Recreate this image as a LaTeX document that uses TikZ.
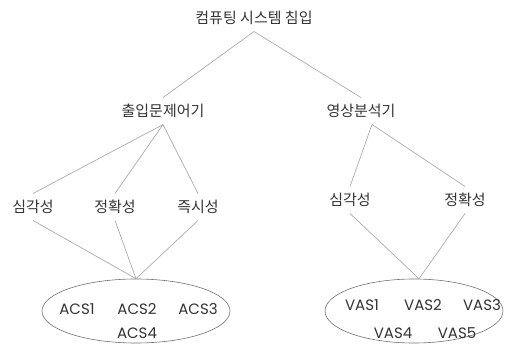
\documentclass[tikz,border=0pt]{standalone}
\usepackage{fontspec}
\setmainfont{Poppins}
\newfontfamily\krfont{Noto Sans CJK KR}
\usepackage{tikz}
\usetikzlibrary{shapes.geometric}

\definecolor{txtgray}{HTML}{333333}
\definecolor{linegray}{HTML}{ABABAB}

\tikzset{
  lbl/.style={inner sep=6.5pt, text=txtgray, font=\krfont\fontsize{15}{15}\selectfont},
  item/.style={inner sep=0pt, text=txtgray, font=\fontsize{15}{15}\selectfont},
  grp/.style={ellipse, draw=txtgray!70, line width=0.6pt, inner sep=0pt},
  link/.style={draw=linegray, line width=0.7pt}
}

\begin{document}
\begin{tikzpicture}[x=1pt,y=-1pt]
      \useasboundingbox (0,0) rectangle (516,345);
      % tree labels
      \node[lbl] (root) at (254,18) {컴퓨팅 시스템 침입};
      \node[lbl] (acc) at (163,111) {출입문제어기};
      \node[lbl] (vid) at (361,111) {영상분석기};
      \node[lbl] (a1) at (33,207) {심각성};
      \node[lbl] (a2) at (115,207) {정확성};
      \node[lbl] (a3) at (198,207) {즉시성};
      \node[lbl] (v1) at (350,200) {심각성};
      \node[lbl] (v2) at (465,200) {정확성};
      % groups
      \node[grp, minimum width=188pt, minimum height=64pt] (acs) at (136,311) {};
      \node[grp, minimum width=178pt, minimum height=64pt] (vas) at (414,311) {};
      \node[item] (acs1) at (77,309) {ACS1};
      \node[item] (acs2) at (137,309) {ACS2};
      \node[item] (acs3) at (198,309) {ACS3};
      \node[item] (acs4) at (137,333) {ACS4};
      \node[item] (vas1) at (362,305) {VAS1};
      \node[item] (vas2) at (423,305) {VAS2};
      \node[item] (vas3) at (482,305) {VAS3};
      \node[item] (vas4) at (393,333) {VAS4};
      \node[item] (vas5) at (457,333) {VAS5};
      % connectors
      \draw[link] (root.south) -- (acc.north);
      \draw[link] (root.south) -- (vid.north);
      \foreach \n in {a1,a2,a3} {
        \draw[link] (acc.south) -- (\n.north);
        \draw[link] (\n.south) -- (acs.north);
      }
      \foreach \n in {v1,v2} {
        \draw[link] ([xshift=11pt]vid.south) -- (\n.north);
        \draw[link] (\n.south) -- ([xshift=5pt]vas.north);
      }
    \end{tikzpicture}
\end{document}
